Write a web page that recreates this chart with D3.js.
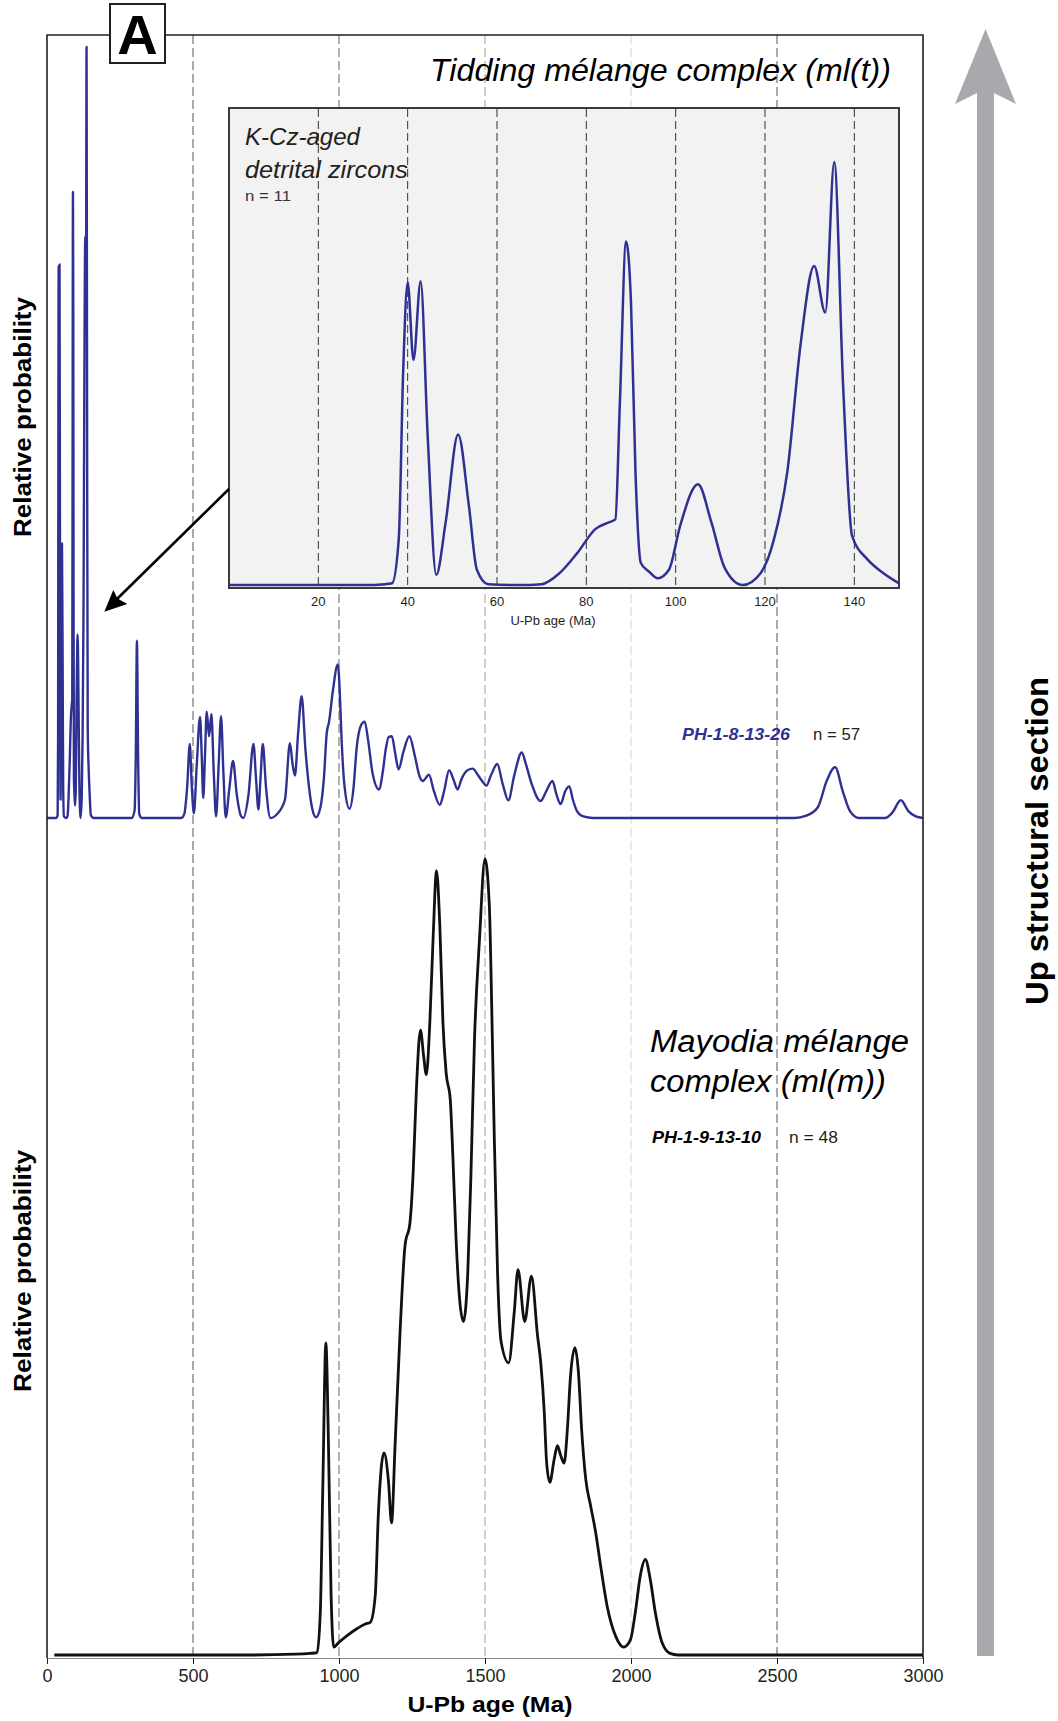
<!DOCTYPE html>
<html><head><meta charset="utf-8">
<script src="https://cdn.jsdelivr.net/npm/d3@7"></script>
<style>
body{margin:0;background:#fff}
svg{display:block}
text{font-family:"Liberation Sans",Arial,sans-serif}
</style>
</head><body>
<svg id="chart" width="1058" height="1721"></svg>
<script>
// ---- data (age in Ma, relative probability 0-100) ----
const kczPoints = [
  [0,0],[30,0],[35,0.2],[36.5,0.4],[38,10.8],[39,50.8],[40,71.6],[41.3,53.2],[42.9,71.8],[44.5,34.8],
  [46.4,2.4],[48.5,14.8],[51.3,35.6],[53.7,18.8],[55.5,3.6],[58,0.2],[65,0],[70,0.2],[74,2.8],
  [78,7.6],[82,13.2],[85,14.8],[86.5,15.5],[87.5,42.8],[88.9,81.2],[90,66.8],[91,26.8],[92.2,5.2],
  [94,3.2],[96,1.6],[98.5,3.6],[101,14],[105,23.8],[108,14.8],[111,4],[115,0],[119,2.8],[122,10.8],
  [125,26.8],[128,57.2],[131,75.4],[133.5,64.4],[135.5,100],[137.5,46.8],[139.5,11.6],[143,6],
  [146,3.2],[150,0.4]
];
const tiddingPoints = [
  [160,0],[290,0],[300,1],[304,8],[308,23],[312,8],[316,0.5],[325,0],[460,0],[470,0.5],[480,4],
  [489,9.6],[496,4],[503,0.6],[513,7],[524,13.1],[530,8],[535,2.6],[541,8],[547,13.8],[555,10.6],
  [563,13.5],[571,6],[579,0.2],[588,7],[596,13.2],[604,6],[612,0.1],[625,4],[637,7.4],[650,3],
  [665,0.2],[672,0],[690,3],[707,9.6],[716,5],[724,1.1],[731,5],[739,9.6],[750,4],[765,0],[790,0.6],
  [815,2.4],[832,9.7],[841,7],[849,5.5],[860,11],[872,15.8],[885,8.9],[897,4.1],[909,1.1],[921,0.1],
  [937,1.5],[948,5],[958,11],[966,12.5],[978,16.2],[996,19.9],[1003,16],[1008,11],[1019,4.1],
  [1036,1.2],[1050,4],[1060,8.9],[1075,12],[1088,12.5],[1100,10],[1115,5.8],[1137,3.7],[1150,6],
  [1160,8.9],[1170,10.5],[1181,10.6],[1192,8.5],[1204,6.3],[1220,8.5],[1241,10.6],[1260,8],
  [1275,5.5],[1287,4.8],[1308,5.6],[1325,3.5],[1345,1.7],[1360,3.5],[1377,6.2],[1392,5],[1406,3.7],
  [1420,5.1],[1440,6.2],[1458,6.4],[1475,5.6],[1490,4.8],[1505,4.2],[1520,5.5],[1542,7],[1560,4.5],
  [1580,2.3],[1600,5.5],[1626,8.5],[1640,7],[1660,4.4],[1690,2.2],[1710,3.5],[1731,4.8],[1745,3],
  [1759,1.8],[1775,3.5],[1789,4.1],[1800,2.5],[1815,0.9],[1837,0.2],[1870,0],[2560,0],[2600,0.3],
  [2640,1.4],[2670,4.8],[2699,6.6],[2725,3.5],[2750,0.9],[2781,0],[2870,0],[2895,0.7],[2924,2.3],
  [2950,0.9],[2975,0.2],[3000,0]
];
const mayodiaPoints = [
  [25,0],[700,0],[850,0.1],[900,0.2],[925,0.3],[936,5.4],[945,22],[955,39.2],[964,26.3],[973,7.4],
  [982,1],[1000,1.6],[1030,2.5],[1061,3.3],[1090,3.9],[1107,4.1],[1124,7.4],[1135,17.9],[1154,25.4],
  [1169,22],[1180,16.6],[1192,26.3],[1209,40.5],[1226,51.4],[1243,54.3],[1254,60.6],[1265,71],
  [1279,78.5],[1290,75.2],[1299,72.9],[1311,79.4],[1322,89.8],[1334,98.5],[1345,91.9],[1356,79.4],
  [1367,73.1],[1381,69.8],[1390,62.6],[1401,52.2],[1413,44.7],[1426,41.9],[1441,48],[1452,60.6],
  [1464,77.3],[1481,89.8],[1500,100],[1515,94],[1523,81.5],[1532,64.7],[1543,48],[1555,39.4],
  [1581,36.7],[1600,43],[1613,48.4],[1636,41.9],[1659,47.6],[1680,40.1],[1691,36.7],[1703,30.5],
  [1711,24.2],[1722,21.7],[1737,24.6],[1748,26.3],[1759,25.1],[1771,24.1],[1782,28.3],[1793,35.1],
  [1808,38.6],[1820,35.5],[1831,28.3],[1845,22.1],[1862,18.7],[1879,15.4],[1896,11.2],[1918,6.2],
  [1947,2.4],[1975,1],[1998,1.9],[2015,5.4],[2032,10],[2049,12],[2066,9.5],[2083,5.4],[2106,1.6],
  [2134,0.2],[2160,0],[3000,0]
];
const ageTicks = [0,500,1000,1500,2000,2500,3000];
const guideAges = [500,1000,1500,2000,2500];
const insetTicks = [20,40,60,80,100,120,140];

// ---- layout / style ----
const BLUE = "#2e3192";
const guideColor = {500:"#555",1000:"#666",1500:"#9c9c9c",2000:"#d3d3d3",2500:"#555"};
const svg = d3.select("#chart");
const x = d3.scaleLinear().domain([0,3000]).range([47,923]);
const yBlue = d3.scaleLinear().domain([0,100]).range([818,47]);
const yBlack = d3.scaleLinear().domain([0,100]).range([1655,859]);
const xi = d3.scaleLinear().domain([0,150]).range([229,899]);
const yi = d3.scaleLinear().domain([0,100]).range([585,162]);
const frame = {top:35, bottom:1658, left:x(0), right:x(3000)};
const inset = {left:xi(0), right:xi(150), top:108, bottom:588};

function txt(g, s, px, py, size, o={}) {
  const t = g.append("text").attr("x",px).attr("y",py).attr("font-size",size)
    .attr("fill", o.fill || "#231f20").text(s);
  if (o.weight) t.attr("font-weight", o.weight);
  if (o.italic) t.attr("font-style","italic");
  if (o.anchor) t.attr("text-anchor", o.anchor);
  if (o.len) t.attr("textLength", o.len).attr("lengthAdjust","spacingAndGlyphs");
  if (o.rot) t.attr("transform", `rotate(-90,${px},${py})`);
  return t;
}

// guides
svg.append("g").selectAll("line").data(guideAges).join("line")
  .attr("x1", d=>x(d)).attr("x2", d=>x(d)).attr("y1", frame.top).attr("y2", frame.bottom)
  .attr("stroke", d=>guideColor[d]).attr("stroke-width",1).attr("stroke-dasharray","9,4");

// inset
const gi = svg.append("g");
gi.append("rect").attr("x",inset.left).attr("y",inset.top)
  .attr("width",inset.right-inset.left).attr("height",inset.bottom-inset.top)
  .attr("fill","#f2f2f2").attr("stroke","#3a3a3a").attr("stroke-width",2);
gi.selectAll("line.g").data(insetTicks).join("line").attr("class","g")
  .attr("x1",d=>xi(d)).attr("x2",d=>xi(d)).attr("y1",inset.top+1).attr("y2",inset.bottom-1)
  .attr("stroke","#333").attr("stroke-width",1).attr("stroke-dasharray","8,4");
const lineI = d3.line().x(d=>xi(d[0])).y(d=>yi(d[1])).curve(d3.curveMonotoneX);
gi.append("path").datum(kczPoints).attr("d",lineI).attr("fill","none")
  .attr("stroke",BLUE).attr("stroke-width",2.5);
gi.selectAll("text.t").data(insetTicks).join("text").attr("class","t")
  .attr("x",d=>xi(d)).attr("y",606).attr("text-anchor","middle").attr("font-size",13)
  .attr("fill","#231f20").text(d=>d);
txt(gi,"U-Pb age (Ma)",553,625,13,{anchor:"middle"});
txt(gi,"K-Cz-aged",245,145,24,{italic:true,len:115});
txt(gi,"detrital zircons",245,178,24,{italic:true,len:163});
txt(gi,"n = 11",245,201,15,{fill:"#333",len:46});

// main curves
const lineBlue = d3.line().x(d=>x(d[0])).y(d=>yBlue(d[1])).curve(d3.curveMonotoneX);
svg.append("path").datum(kczPoints.concat(tiddingPoints)).attr("d",lineBlue)
  .attr("fill","none").attr("stroke",BLUE).attr("stroke-width",2.4).attr("stroke-linejoin","round");
const lineBlack = d3.line().x(d=>x(d[0])).y(d=>yBlack(d[1])).curve(d3.curveMonotoneX);

// axis
const ax = svg.append("g").attr("transform",`translate(0,${frame.bottom})`)
  .call(d3.axisBottom(x).tickValues(ageTicks).tickFormat(d3.format("d"))
    .tickSize(6).tickPadding(5).tickSizeOuter(0));
ax.select(".domain").attr("stroke","#8a8a8a").attr("stroke-width",1.2);
ax.selectAll(".tick line").attr("stroke","#231f20").attr("stroke-width",1);
ax.selectAll(".tick text").attr("font-size",18).attr("fill","#231f20")
  .attr("font-family","'Liberation Sans',Arial,sans-serif");

svg.append("path").datum(mayodiaPoints).attr("d",lineBlack)
  .attr("fill","none").attr("stroke","#111").attr("stroke-width",2.8).attr("stroke-linejoin","round");

// frame
svg.append("path")
  .attr("d",`M${frame.left},${frame.bottom}V${frame.top}H${frame.right}V${frame.bottom}`)
  .attr("fill","none").attr("stroke","#231f20").attr("stroke-width",1.6);

// panel label A
svg.append("rect").attr("x",110).attr("y",4).attr("width",55).attr("height",59)
  .attr("fill","#fff").attr("stroke","#231f20").attr("stroke-width",2);
txt(svg,"A",137.5,54,56,{weight:"bold",anchor:"middle",fill:"#000"});

// titles
txt(svg,"Tidding mélange complex (ml(t))",430,81,32,{italic:true,len:461,fill:"#000"});
txt(svg,"PH-1-8-13-26",682,740,17,{italic:true,weight:"bold",fill:BLUE,len:108});
txt(svg,"n = 57",813,740,17,{len:47});
txt(svg,"Mayodia mélange",650,1052,31,{italic:true,len:259,fill:"#000"});
txt(svg,"complex (ml(m))",650,1092,31,{italic:true,len:236,fill:"#000"});
txt(svg,"PH-1-9-13-10",652,1143,17,{italic:true,weight:"bold",fill:"#000",len:109});
txt(svg,"n = 48",789,1143,17,{len:49});

// axis titles
txt(svg,"U-Pb age (Ma)",490,1712,22,{weight:"bold",anchor:"middle",fill:"#000",len:165});
txt(svg,"Relative probability",31,417,24,{weight:"bold",anchor:"middle",rot:true,fill:"#000",len:240});
txt(svg,"Relative probability",31,1271,24,{weight:"bold",anchor:"middle",rot:true,fill:"#000",len:242});
txt(svg,"Up structural  section",1048,841,32,{weight:"bold",anchor:"middle",rot:true,fill:"#000",len:328});

// structural arrow
svg.append("polygon")
  .attr("points","985.5,29 1016,104 994,93 994,1656 977,1656 977,93 955,104")
  .attr("fill","#a7a9ac");

// pointer arrow from inset to young peaks
svg.append("line").attr("x1",inset.left).attr("y1",489).attr("x2",117).attr("y2",599)
  .attr("stroke","#000").attr("stroke-width",2.6);
svg.append("polygon").attr("points","104.3,611.7 113.3,590 117.5,598.5 127.3,604").attr("fill","#000");
</script>
</body></html>
